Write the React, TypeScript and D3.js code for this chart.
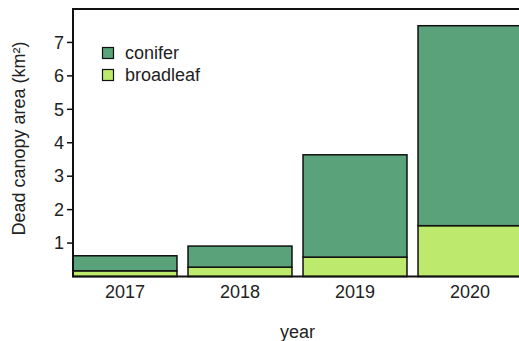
import React from "react";
import * as d3 from "d3";

const years = ["2017", "2018", "2019", "2020"];
const broadleaf = [0.17, 0.28, 0.58, 1.52];
const conifer = [0.45, 0.63, 3.06, 5.98];
const yTicks = [1, 2, 3, 4, 5, 6, 7];
const seriesNames = ["conifer", "broadleaf"];
const seriesColors = ["#59a27a", "#bdea6c"];

const W = 519, H = 341;
const left = 73, right = 522, top = 9, bottom = 276.5;

export default function App() {
  const x = d3.scaleBand<string>().domain(years).range([left, right]).paddingInner(0.096).paddingOuter(0);
  const y = d3.scaleLinear().domain([0, 8]).range([bottom, top]);
  const stackData = years.map((yr, i) => ({ year: yr, broadleaf: broadleaf[i], conifer: conifer[i] }));
  const stack = d3.stack<any>().keys(["broadleaf", "conifer"])(stackData);
  const color: Record<string, string> = { conifer: seriesColors[0], broadleaf: seriesColors[1] };
  const font = "'Liberation Sans', Arial, Helvetica, sans-serif";
  const fs = 18;
  return (
    <svg width={W} height={H} style={{ position: "absolute", left: 0, top: 0, background: "#fff" }} fontFamily={font}>
      {stack.map((s) => (
        <g key={s.key}>
          {s.map((d, i) => (
            <rect
              key={i}
              x={x(years[i])}
              y={y(d[1])}
              width={x.bandwidth()}
              height={y(d[0]) - y(d[1])}
              fill={color[s.key]}
              stroke="#111"
              strokeWidth={1.5}
            />
          ))}
        </g>
      ))}
      <rect x={left} y={top} width={right - left} height={bottom - top} fill="none" stroke="#111" strokeWidth={2} />
      {yTicks.map((t) => (
        <g key={t}>
          <line x1={left - 6} x2={left} y1={y(t)} y2={y(t)} stroke="#111" strokeWidth={1.5} />
          <text x={left - 9} y={y(t)} dy="0.35em" textAnchor="end" fontSize={fs} fill="#222">{t}</text>
        </g>
      ))}
      {years.map((yr) => (
        <text key={yr} x={(x(yr) as number) + x.bandwidth() / 2} y={292} dy="0.35em" textAnchor="middle" fontSize={fs} fill="#222">{yr}</text>
      ))}
      <text x={(left + right) / 2} y={332} dy="0.35em" textAnchor="middle" fontSize={fs} fill="#222">year</text>
      <text transform={`translate(19,138.5) rotate(-90)`} dy="0.35em" textAnchor="middle" fontSize={fs} fill="#222">
        Dead canopy area (km²)
      </text>
      {seriesNames.map((n, i) => (
        <g key={n} transform={`translate(0,${53 + i * 22})`}>
          <rect x={102.5} y={-5.5} width={11} height={11} fill={seriesColors[i]} stroke="#111" strokeWidth={1.2} />
          <text x={125} y={0} dy="0.35em" fontSize={fs} fill="#222">{n}</text>
        </g>
      ))}
    </svg>
  );
}
